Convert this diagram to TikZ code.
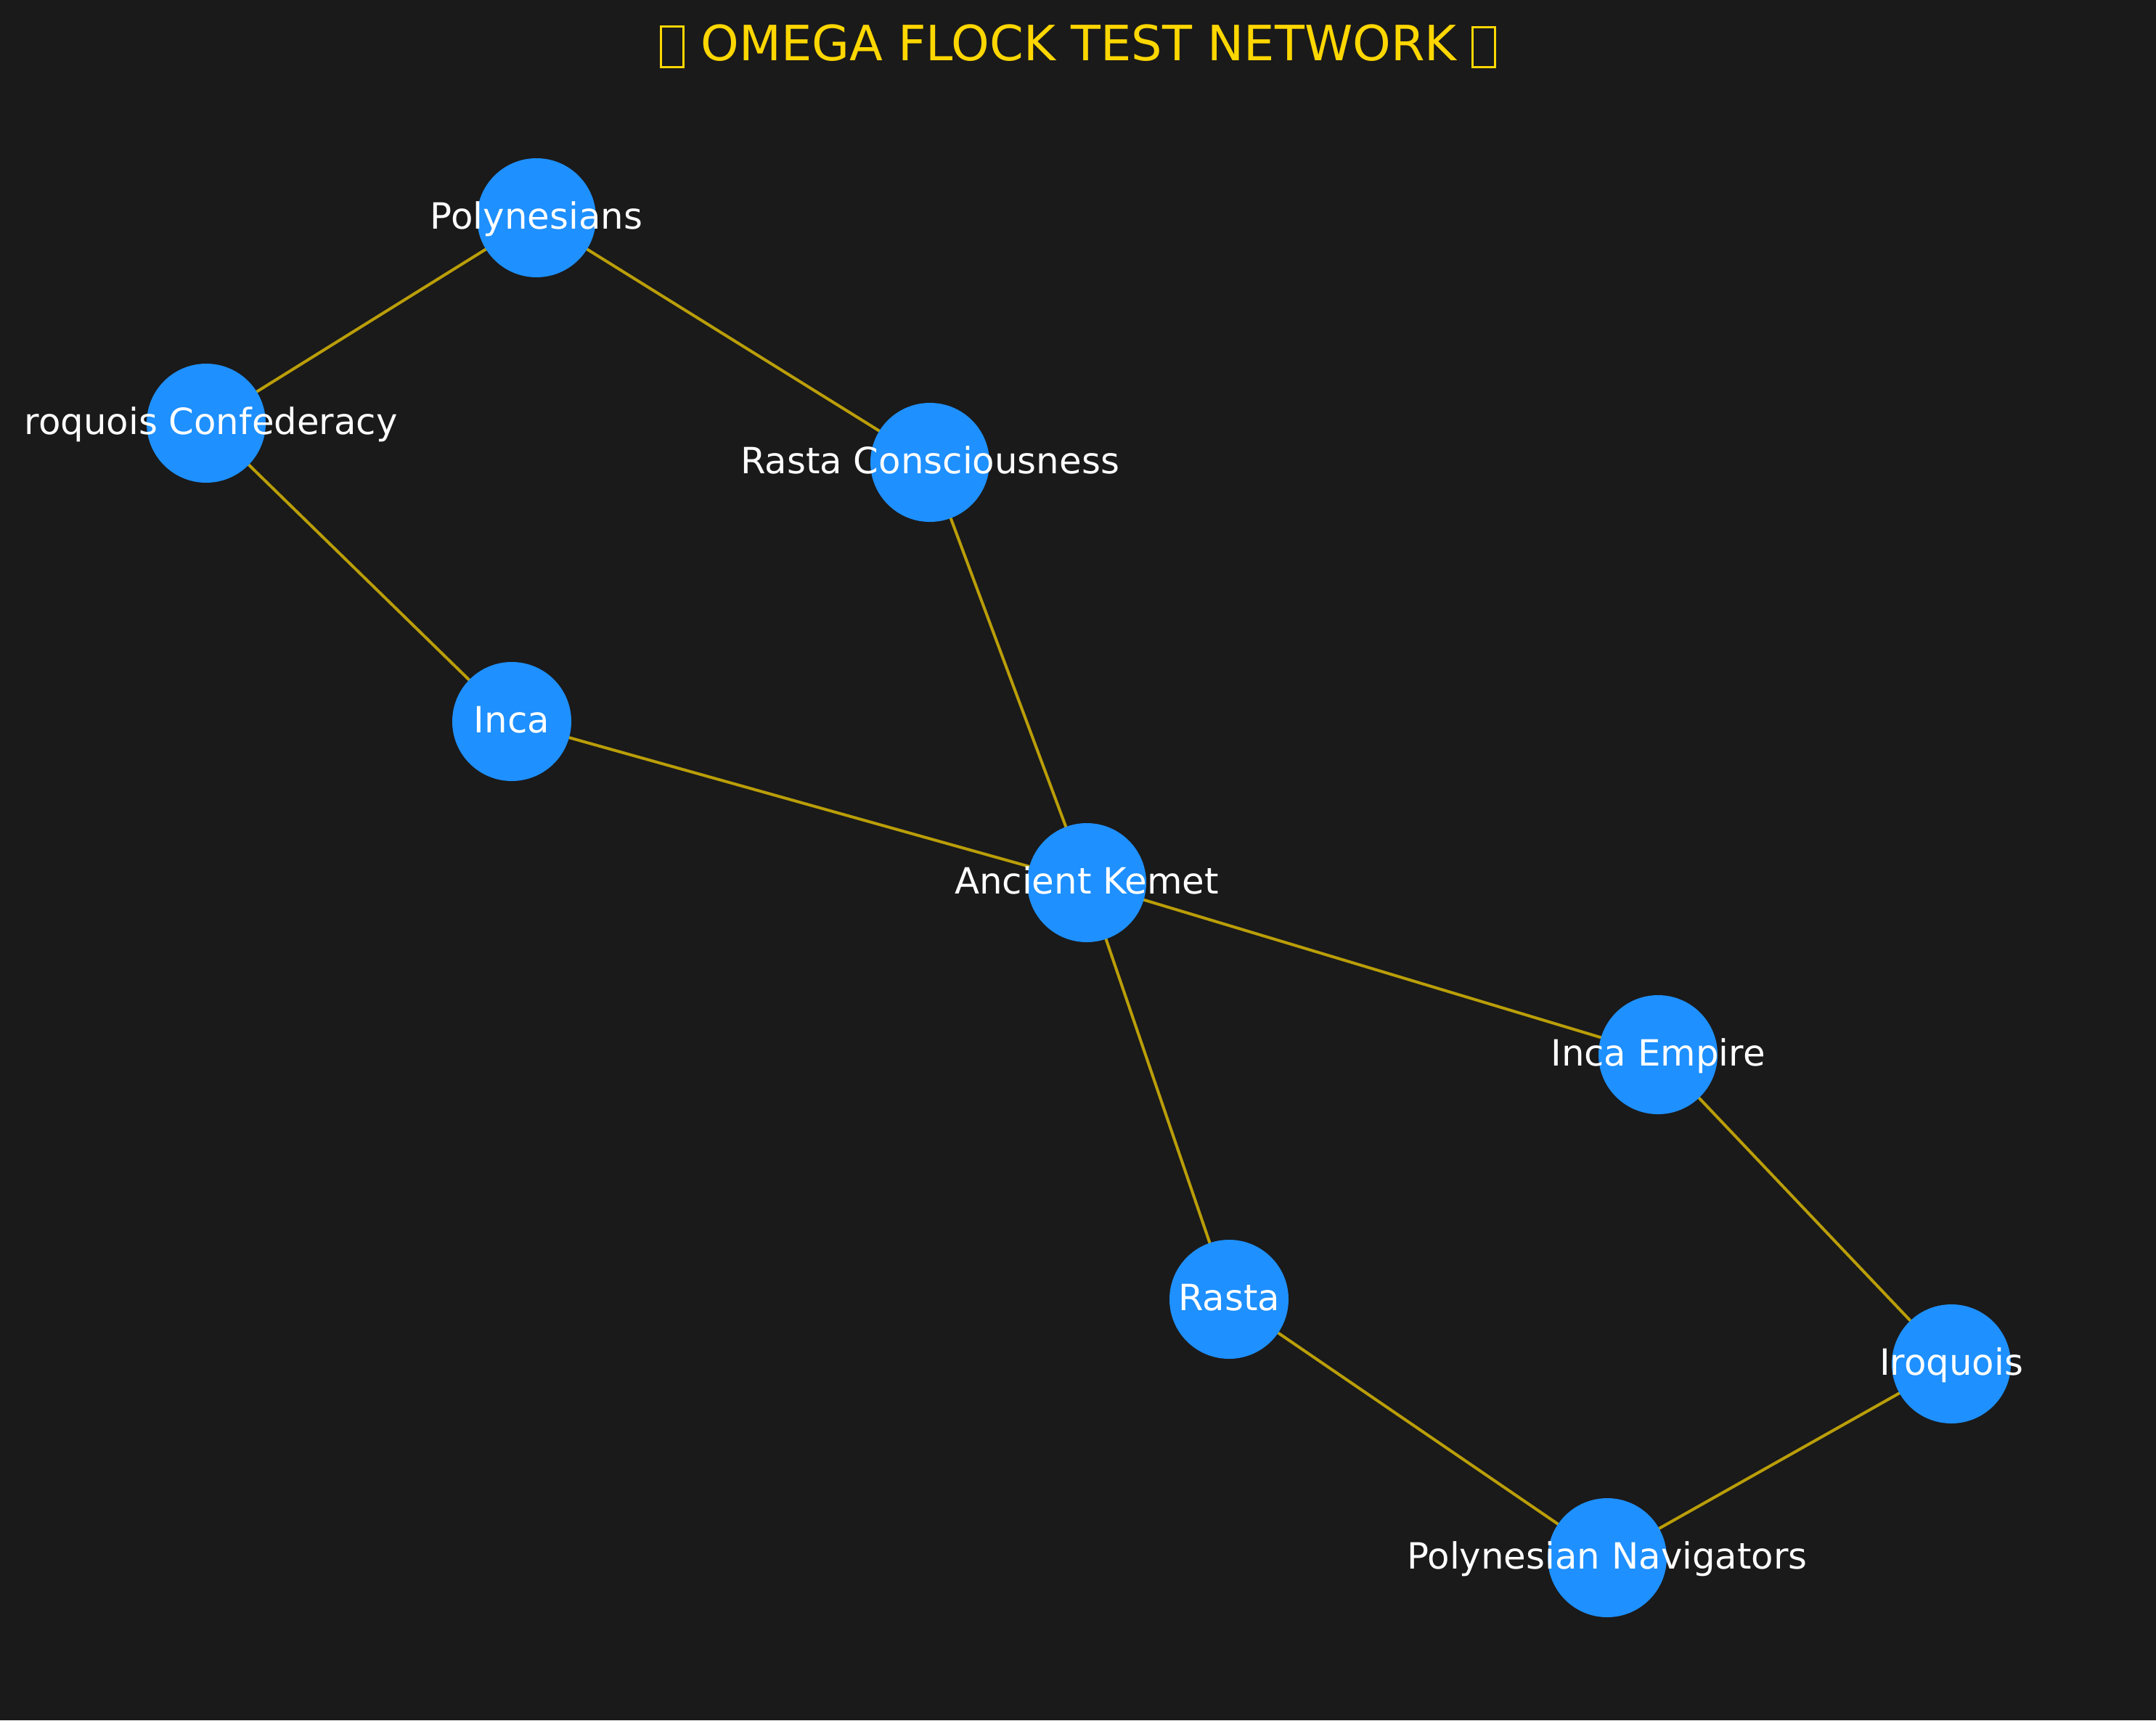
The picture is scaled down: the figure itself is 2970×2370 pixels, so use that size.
\documentclass[tikz,border=0pt]{standalone}
\usepackage{fontspec}
\setmainfont{DejaVu Sans}
\definecolor{bg}{HTML}{1A1A1A}
\definecolor{nodeblue}{HTML}{1E90FF}
\definecolor{gold}{HTML}{FFD700}
\definecolor{edgegold}{RGB}{186,158,8}
\pgfdeclarelayer{bglayer}
\pgfdeclarelayer{edgelayer}
\pgfsetlayers{bglayer,edgelayer,main}
\begin{document}
\begin{tikzpicture}[x=1pt,y=-1pt,
  netnode/.style={circle,fill=nodeblue,draw=none,minimum size=164pt,inner sep=0pt},
  netlabel/.style={text=white,inner sep=0pt,anchor=base,font=\fontsize{49.8}{60}\selectfont},
  netedge/.style={draw=edgegold,line width=4pt},
  tofu/.style={draw=gold,line width=3pt}]
\begin{pgfonlayer}{bglayer}
\fill[bg] (0,0) rectangle (2970,2370);
\end{pgfonlayer}
\useasboundingbox (0,0) rectangle (2970,2370);
% title
\node[text=gold,inner sep=0pt,anchor=base,font=\fontsize{67}{80}\selectfont] (title) at (1486,83) {OMEGA FLOCK TEST NETWORK};
\draw[tofu] (910.5,36.5) rectangle (941.5,92.5);
\draw[tofu] (2028.5,37.5) rectangle (2059.5,92.5);
% nodes
\node[netnode] (poly) at (739,300) {};
\node[netnode] (iroc) at (284,583) {};
\node[netnode] (rastac) at (1281,637) {};
\node[netnode] (inca) at (705,994) {};
\node[netnode] (kemet) at (1497,1216) {};
\node[netnode] (incae) at (2284,1453) {};
\node[netnode] (rasta) at (1693,1790) {};
\node[netnode] (iroq) at (2688,1879) {};
\node[netnode] (polynav) at (2214,2146) {};
% edges
\begin{pgfonlayer}{edgelayer}
\draw[netedge] (poly.center) -- (iroc.center);
\draw[netedge] (poly.center) -- (rastac.center);
\draw[netedge] (iroc.center) -- (inca.center);
\draw[netedge] (rastac.center) -- (kemet.center);
\draw[netedge] (inca.center) -- (kemet.center);
\draw[netedge] (kemet.center) -- (incae.center);
\draw[netedge] (kemet.center) -- (rasta.center);
\draw[netedge] (incae.center) -- (iroq.center);
\draw[netedge] (rasta.center) -- (polynav.center);
\draw[netedge] (iroq.center) -- (polynav.center);
\end{pgfonlayer}
% labels
\node[netlabel] (lpoly) at (739,315) {Polynesians};
\node[netlabel,anchor=base east] (liroc) at (548,598) {roquois Confederacy};
\node[netlabel] (lrastac) at (1281,652) {Rasta Consciousness};
\node[netlabel] (linca) at (705,1009) {Inca};
\node[netlabel] (lkemet) at (1497,1231) {Ancient Kemet};
\node[netlabel] (lincae) at (2284,1468) {Inca Empire};
\node[netlabel] (lrasta) at (1693,1805) {Rasta};
\node[netlabel] (liroq) at (2688,1894) {Iroquois};
\node[netlabel] (lpolynav) at (2214,2161) {Polynesian Navigators};
\end{tikzpicture}
\end{document}
